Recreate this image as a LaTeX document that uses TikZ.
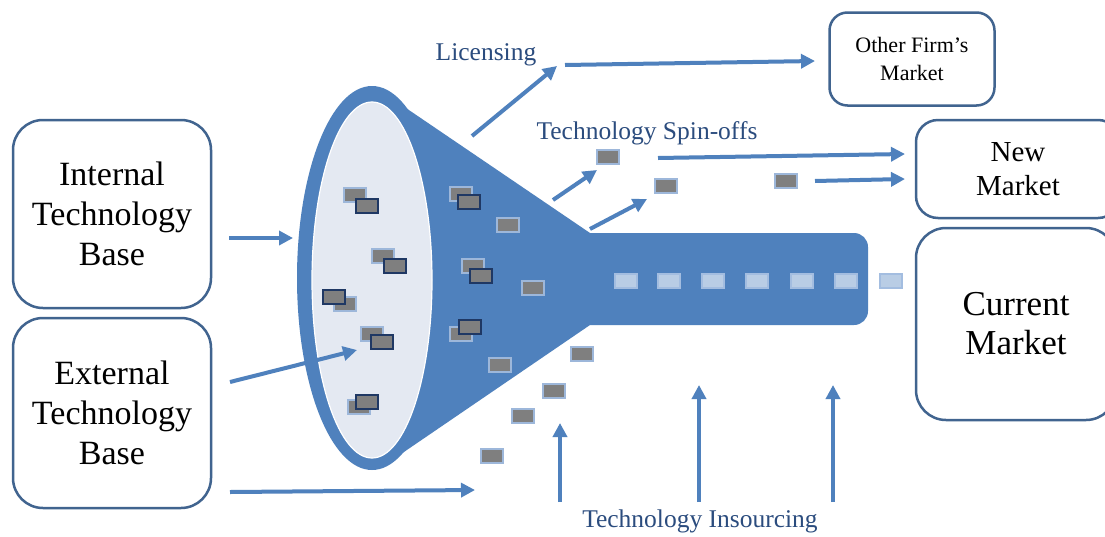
\documentclass[tikz,border=0pt]{standalone}
\usepackage{fontspec}
\setmainfont{Liberation Serif}
\usetikzlibrary{arrows.meta}
\definecolor{funnel}{HTML}{4F81BD}
\definecolor{mouth}{HTML}{E4E9F2}
\definecolor{boxline}{HTML}{41648F}
\definecolor{labeltext}{HTML}{2B4C7E}
\definecolor{chipfill}{HTML}{7F7F7F}
\definecolor{chiplight}{HTML}{9DB7DA}
\definecolor{chipdark}{HTML}{1F3864}
\definecolor{flowfill}{HTML}{B9CDE5}
\definecolor{flowline}{HTML}{A3BDE0}
\tikzset{
  market/.style={draw=boxline, line width=2.5pt, rounded corners=30pt, align=center, text=black, inner sep=0pt},
  conn/.style={draw=funnel, line width=4pt, -{Triangle[length=14pt,width=14pt]}},
  flowlabel/.style={text=labeltext, font=\fontsize{25.5}{30}\selectfont, inner sep=0pt},
  chipL/.style={draw=chiplight, fill=chipfill, line width=2.5pt, minimum width=22pt, minimum height=14pt, inner sep=0pt},
  chipD/.style={draw=chipdark, fill=chipfill, line width=2.5pt, minimum width=22pt, minimum height=14pt, inner sep=0pt},
  chipT/.style={draw=flowline, fill=flowfill, line width=2pt, minimum width=22pt, minimum height=14pt, inner sep=0pt},
}
\begin{document}
\begin{tikzpicture}[x=1pt,y=-1pt]
\useasboundingbox (0,0) rectangle (1105,536);
\clip (0,0) rectangle (1105,536);
\fill[white] (0,0) rectangle (1105,536);

% funnel: cone and tube, then the open mouth
\fill[funnel] (375,87) -- (590,233) [rounded corners=14pt] -- (868,233) -- (868,325) [sharp corners] -- (590,325) -- (379,469) -- (372,278) -- cycle;
\fill[funnel] (372,278) ellipse [x radius=75pt, y radius=192pt];
\filldraw[fill=mouth, draw=white, line width=1.2pt] (372,280) ellipse [x radius=60pt, y radius=178pt];

% technologies inside the mouth
\node[chipL] (m1a) at (355,195) {};
\node[chipD] (m1b) at (367,206) {};
\node[chipL] (m2a) at (383,256) {};
\node[chipD] (m2b) at (395,266) {};
\node[chipL] (m3a) at (345,304) {};
\node[chipD] (m3b) at (334,297) {};
\node[chipL] (m4a) at (372,334) {};
\node[chipD] (m4b) at (382,342) {};
\node[chipL] (m5a) at (359,407) {};
\node[chipD] (m5b) at (367,402) {};

% technologies in the cone
\node[chipL] (k1a) at (461,194) {};
\node[chipD] (k1b) at (469,202) {};
\node[chipL] (k2) at (508,225) {};
\node[chipL] (k3a) at (473,266) {};
\node[chipD] (k3b) at (481,276) {};
\node[chipL] (k4) at (533,288) {};
\node[chipL] (k5a) at (461,334) {};
\node[chipD] (k5b) at (470,327) {};
\node[chipL] (k6) at (500,365) {};

% technologies leaving or entering below
\node[chipL] (b1) at (582,354) {};
\node[chipL] (b2) at (554,391) {};
\node[chipL] (b3) at (523,416) {};
\node[chipL] (b4) at (492,456) {};

% spin-offs
\node[chipL] (s1) at (608,157) {};
\node[chipL] (s2) at (666,186) {};
\node[chipL] (s3) at (786,181) {};

% flow through the tube
\foreach \i/\x in {1/626,2/669,3/713,4/757,5/802,6/846,7/891}
  \node[chipT] (t\i) at (\x,281) {};

% markets and technology bases
\node[market, minimum width=198pt, minimum height=188pt, font=\fontsize{34}{40}\selectfont] (int) at (112,214) {Internal\\Technology\\Base};
\node[market, minimum width=198pt, minimum height=190pt, font=\fontsize{34}{40}\selectfont] (ext) at (112,413) {External\\Technology\\Base};
\node[market, rounded corners=18pt, minimum width=165pt, minimum height=93pt, font=\fontsize{22}{28}\selectfont] (other) at (912,59) {Other Firm's\\Market};
\node[market, rounded corners=22pt, minimum width=204pt, minimum height=98pt, font=\fontsize{29}{34}\selectfont] (new) at (1018,169) {New\\Market};
\node[market, minimum width=200pt, minimum height=192pt, font=\fontsize{35}{39}\selectfont] (cur) at (1016,324) {Current\\Market};

% labels
\node[flowlabel] (lic) at (486,55) {Licensing};
\node[flowlabel] (spin) at (647,133) {Technology Spin-offs};
\node[flowlabel] (ins) at (700,521) {Technology Insourcing};

% connector end points
\coordinate (intA) at (229,238);  \coordinate (intB) at (293,238);
\coordinate (extA) at (230,382);  \coordinate (extB) at (357,350);
\coordinate (extC) at (230,492);  \coordinate (extD) at (475,490);
\coordinate (licA) at (472,136);  \coordinate (licB) at (557,66);
\coordinate (licC) at (565,65);   \coordinate (licD) at (815,61);
\coordinate (spA) at (553,200);   \coordinate (spB) at (597,170);
\coordinate (spC) at (590,229);   \coordinate (spD) at (647,199);
\coordinate (spE) at (658,158);   \coordinate (spF) at (905,154);
\coordinate (spG) at (815,181);   \coordinate (spH) at (905,179);
\coordinate (inA) at (560,502);   \coordinate (inB) at (560,423);
\coordinate (inC) at (699,502);   \coordinate (inD) at (699,385);
\coordinate (inE) at (833,502);   \coordinate (inF) at (833,385);

\draw[conn] (intA) -- (intB);
\draw[conn] (extA) -- (extB);
\draw[conn] (extC) -- (extD);
\draw[conn] (licA) -- (licB);
\draw[conn] (licC) -- (licD);
\draw[conn] (spA) -- (spB);
\draw[conn] (spC) -- (spD);
\draw[conn] (spE) -- (spF);
\draw[conn] (spG) -- (spH);
\draw[conn] (inA) -- (inB);
\draw[conn] (inC) -- (inD);
\draw[conn] (inE) -- (inF);
\end{tikzpicture}
\end{document}
